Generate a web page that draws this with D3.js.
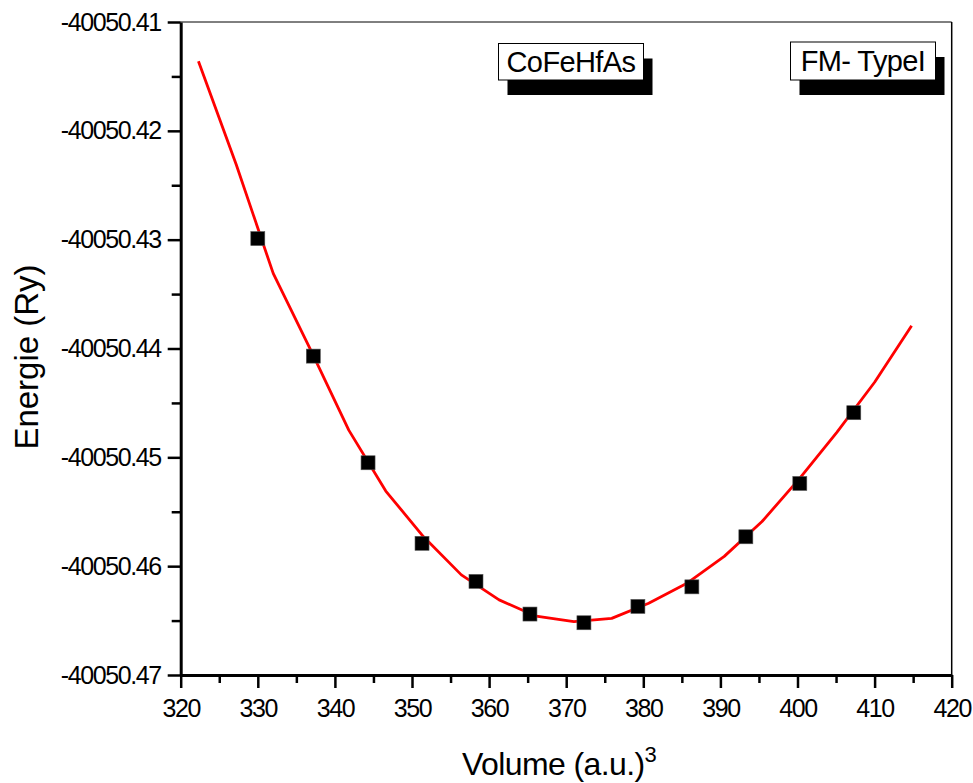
<!DOCTYPE html>
<html>
<head>
<meta charset="utf-8">
<script src="https://cdn.jsdelivr.net/npm/d3@7"></script>
<style>
  body { margin: 0; background: #fff; }
  text { font-family: "Liberation Sans", Arial, sans-serif; fill: #000; }
</style>
</head>
<body>
<div id="chart"></div>
<script>
// measured points
var volumes = [330.0, 337.2, 344.3, 351.3, 358.3, 365.3, 372.3, 379.3, 386.3, 393.3, 400.3, 407.3];
var energies = [-40050.4299, -40050.4407, -40050.4505, -40050.4579, -40050.4614, -40050.4644,
                -40050.4652, -40050.4637, -40050.4619, -40050.4573, -40050.4524, -40050.4459];

// fitted curve
var fitVolumes = [322.3, 327.2, 332.0, 336.9, 341.8, 346.6, 351.5, 356.4, 361.3, 366.1,
                  371.0, 375.9, 380.7, 385.6, 390.5, 395.4, 400.2, 405.1, 410.0, 414.8];
var fitEnergies = [-40050.4136, -40050.4231, -40050.4331, -40050.4402, -40050.4475, -40050.4531,
                   -40050.4573, -40050.4608, -40050.4631, -40050.4646, -40050.4651, -40050.4648,
                   -40050.4634, -40050.4616, -40050.4591, -40050.4559, -40050.4520, -40050.4477,
                   -40050.4431, -40050.4379];

var xTicks = [320, 330, 340, 350, 360, 370, 380, 390, 400, 410, 420];
var yTicks = [-40050.47, -40050.46, -40050.45, -40050.44, -40050.43, -40050.42, -40050.41];
var yTickLabels = ["-40050.47", "-40050.46", "-40050.45", "-40050.44", "-40050.43", "-40050.42", "-40050.41"];

var W = 973, H = 783;
var pLeft = 180.7, pRight = 951.7, pTop = 22, pBottom = 675;

var svg = d3.select('#chart').append('svg')
   .attr('width', W)
   .attr('height', H);

var x = d3.scaleLinear().domain([320, 420]).range([pLeft, pRight]);
var y = d3.scaleLinear().domain([-40050.47, -40050.41]).range([pBottom, pTop]);

// minor ticks halfway between majors
var xMinor = xTicks.slice(0, -1).map(function(d, i){ return (d + xTicks[i + 1]) / 2; });
var yMinor = yTicks.slice(0, -1).map(function(d, i){ return (d + yTicks[i + 1]) / 2; });

// frame: thin top/right
svg.append('line').attr('x1', pLeft).attr('x2', pRight).attr('y1', pTop).attr('y2', pTop)
   .attr('stroke', '#000').attr('stroke-width', 1);
svg.append('line').attr('x1', pRight).attr('x2', pRight).attr('y1', pTop).attr('y2', pBottom)
   .attr('stroke', '#000').attr('stroke-width', 1.5);

var tickFont = function(sel){
   sel.attr('font-size', '25px').attr('letter-spacing', '-1.4px')
      .attr('font-family', '"Liberation Sans", Arial, sans-serif');
};

// bottom axis
var xAxis = d3.axisBottom(x).tickValues(xTicks).tickSize(13).tickSizeOuter(0)
   .tickFormat(function(d){ return d; });
var gx = svg.append('g').attr('transform', 'translate(0,' + pBottom + ')').call(xAxis);
gx.select('.domain').attr('stroke-width', 3);
gx.selectAll('.tick line').attr('stroke-width', 2.5);
gx.selectAll('.tick text').call(tickFont).attr('y', 24).attr('dy', '0.71em');
svg.append('g').attr('transform', 'translate(0,' + pBottom + ')')
   .call(d3.axisBottom(x).tickValues(xMinor).tickSize(8).tickFormat(''))
   .call(function(g){ g.select('.domain').remove(); g.selectAll('line').attr('stroke-width', 2.5); });

// left axis
var yAxis = d3.axisLeft(y).tickValues(yTicks).tickSize(13).tickSizeOuter(0).tickPadding(7)
   .tickFormat(function(d, i){ return yTickLabels[i]; });
var gy = svg.append('g').attr('transform', 'translate(' + pLeft + ',0)').call(yAxis);
gy.select('.domain').attr('stroke-width', 3);
gy.selectAll('.tick line').attr('stroke-width', 2.5);
gy.selectAll('.tick text').call(tickFont);
svg.append('g').attr('transform', 'translate(' + pLeft + ',0)')
   .call(d3.axisLeft(y).tickValues(yMinor).tickSize(9).tickFormat(''))
   .call(function(g){ g.select('.domain').remove(); g.selectAll('line').attr('stroke-width', 2.5); });

// fit curve
var line = d3.line()
   .x(function(d, i){ return x(fitVolumes[i]); })
   .y(function(d){ return y(d); });
svg.append('path')
   .datum(fitEnergies)
   .attr('d', line)
   .attr('fill', 'none')
   .attr('stroke', '#ff0000')
   .attr('stroke-width', 2.8)
   .attr('stroke-linejoin', 'round');

// points
var sz = 14;
svg.selectAll('rect.pt').data(energies).enter().append('rect')
   .attr('class', 'pt')
   .attr('x', function(d, i){ return x(volumes[i]) - sz / 2; })
   .attr('y', function(d){ return y(d) - sz / 2; })
   .attr('width', sz).attr('height', sz)
   .attr('fill', '#000')
   .attr('stroke', '#555').attr('stroke-width', 0.6);

// labelled boxes with drop shadow
function labelBox(txt, bx, by, bw, bh){
   svg.append('rect').attr('x', bx + 9).attr('y', by + 15).attr('width', bw).attr('height', bh)
      .attr('fill', '#000');
   svg.append('rect').attr('x', bx).attr('y', by).attr('width', bw).attr('height', bh)
      .attr('fill', '#fff').attr('stroke', '#000').attr('stroke-width', 1);
   svg.append('text').attr('x', bx + bw / 2).attr('y', by + bh / 2 + 10)
      .attr('text-anchor', 'middle').attr('font-size', '29px').attr('letter-spacing', '-0.6px')
      .text(txt);
}
labelBox('CoFeHfAs', 498.5, 43.5, 145, 36.5);
labelBox('FM- TypeI', 790.5, 42, 145, 38);

// axis titles
svg.append('text')
   .attr('transform', 'translate(38,357) rotate(-90)')
   .attr('text-anchor', 'middle')
   .attr('font-size', '33px')
   .text('Energie (Ry)');

var xt = svg.append('text')
   .attr('x', 462).attr('y', 775)
   .attr('font-size', '32px').attr('letter-spacing', '-0.6px');
xt.append('tspan').text('Volume (a.u.)');
xt.append('tspan').attr('font-size', '22px').attr('dy', -13).text('3');
</script>
</body>
</html>
